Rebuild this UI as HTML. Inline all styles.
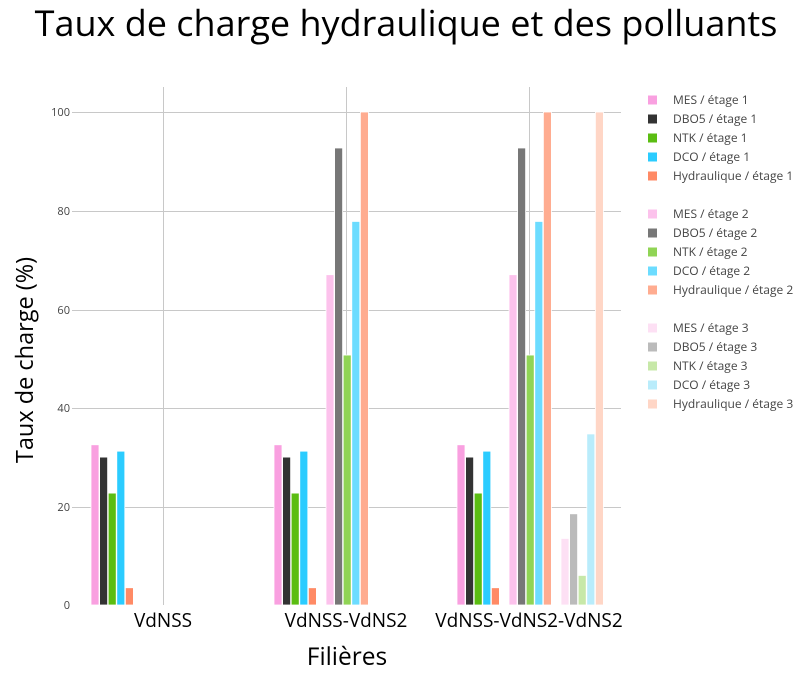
<!DOCTYPE html>
<html><head><meta charset="utf-8"><style>body{margin:0;background:#fff}svg{display:block;font-family:"Open Sans","Liberation Sans","DejaVu Sans",sans-serif}</style></head>
<body>
<svg width="798" height="676" viewBox="0 0 798 676" xmlns="http://www.w3.org/2000/svg">
<rect width="798" height="676" fill="#fff"/>
<text x="406" y="36" font-size="36" text-anchor="middle" fill="#000">Taux de charge hydraulique et des polluants</text>
<g stroke="#c8c8c8" stroke-width="1">
<line x1="72" x2="621" y1="507.5" y2="507.5"/>
<line x1="72" x2="621" y1="408.5" y2="408.5"/>
<line x1="72" x2="621" y1="310.5" y2="310.5"/>
<line x1="72" x2="621" y1="211.5" y2="211.5"/>
<line x1="72" x2="621" y1="112.5" y2="112.5"/>
<line x1="163.5" x2="163.5" y1="87" y2="605"/>
<line x1="346.5" x2="346.5" y1="87" y2="605"/>
<line x1="529.5" x2="529.5" y1="87" y2="605"/>
</g>
<g font-size="11" fill="#444" text-anchor="end">
<text x="70" y="609">0</text><text x="70" y="511">20</text><text x="70" y="412">40</text><text x="70" y="314">60</text><text x="70" y="215">80</text><text x="70" y="116">100</text>
</g>
<g id="bars" stroke="#fff" stroke-width="0.8"></g>
<g font-size="19" fill="#000" text-anchor="middle">
<text x="163" y="627">VdNSS</text><text x="346" y="627">VdNSS-VdNS2</text><text x="529" y="627">VdNSS-VdNS2-VdNS2</text>
</g>
<text x="347" y="665" font-size="24.5" text-anchor="middle">Filières</text>
<text transform="translate(33,360) rotate(-90)" font-size="23.5" text-anchor="middle">Taux de charge (%)</text>
<g id="legend" font-size="12" fill="#444"></g>
<script>
var ns="http://www.w3.org/2000/svg";
var cols=[["#f9a0e0","#333333","#5bbd12","#2bccff","#ff8a65"],["#fcc2ec","#777777","#90d455","#6cdcff","#ffac90"],["#fde0f4","#bbbbbb","#c7e8a8","#b9ecfb","#ffd6c6"]];
var names=["MES","DBO5","NTK","DCO","Hydraulique"];
var v1=[32.5,30,22.7,31.2,3.5],v2=[67,92.7,50.7,77.8,100],v3=[13.5,18.5,6,34.7,100];
var data=[[[163,0,v1]],[[346,0,v1],[346,1,v2]],[[529,0,v1],[529,1,v2],[529,2,v3]]];
var off=[-72,-20,32];
var b=document.getElementById("bars");
data.forEach(function(g){g.forEach(function(s){var c=s[0],e=s[1],v=s[2];
for(var i=0;i<5;i++){var x=c+off[e]+i*8.6;var h=v[i]*4.93;var r=document.createElementNS(ns,"rect");
r.setAttribute("x",x);r.setAttribute("y",605-h);r.setAttribute("width",8);r.setAttribute("height",h);r.setAttribute("fill",cols[e][i]);b.appendChild(r);}})});
var L=document.getElementById("legend");
for(var e=0;e<3;e++)for(var i=0;i<5;i++){var y=100+e*114+i*19;
var r=document.createElementNS(ns,"rect");r.setAttribute("x",648);r.setAttribute("y",y-4.5);r.setAttribute("width",9);r.setAttribute("height",9);r.setAttribute("fill",cols[e][i]);L.appendChild(r);
var t=document.createElementNS(ns,"text");t.setAttribute("x",673);t.setAttribute("y",y+4);t.textContent=names[i]+" / étage "+(e+1);L.appendChild(t);}
</script>
</svg>
</body></html>
